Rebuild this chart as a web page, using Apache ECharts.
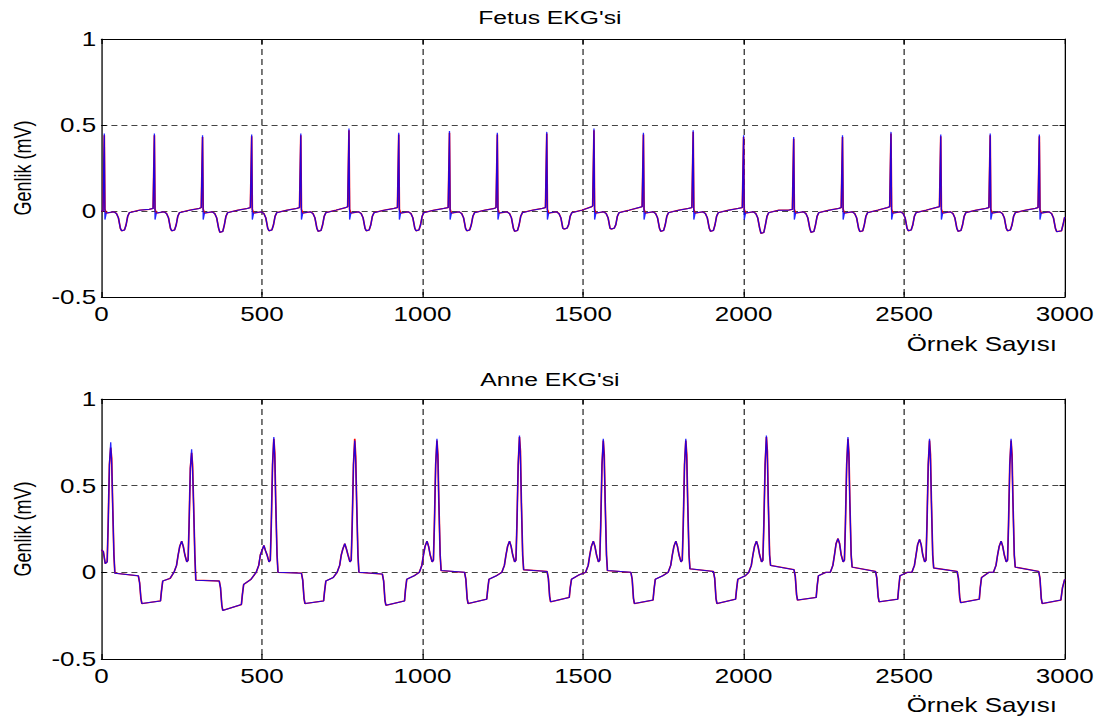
<!DOCTYPE html>
<html>
<head>
<meta charset="utf-8">
<script src="https://cdn.jsdelivr.net/npm/echarts@6/dist/echarts.min.js"></script>
<style>
  html, body { margin: 0; padding: 0; background: #fff; overflow: hidden; }
  #wrap { width: 1104px; height: 722px; overflow: hidden; position: relative; }
  #chart { width: 849.23px; height: 722px; transform: scaleX(1.3); transform-origin: 0 0; }
</style>
</head>
<body>
<div id="wrap"><div id="chart"></div></div>
<script>
// ---------------- data ----------------
const titleFetus = "Fetus EKG'si";
const titleAnne = "Anne EKG'si";
const xAxisLabel = "Örnek Sayısı";
const yAxisLabel = "Genlik (mV)";
const xTickValues = [0, 500, 1000, 1500, 2000, 2500, 3000];
const yTickValues = [-0.5, 0, 0.5, 1];

// Fetus EKG: sample index, blue trace, red trace
const fetusSamples = [0,
  5,9,11,15,39,47,53,59,63,72,77,82,87,119,149,
  161,165,167,171,195,203,209,215,219,228,233,238,243,275,305,
  311,315,317,321,345,353,359,365,369,378,383,388,393,425,455,
  464,468,470,474,498,506,512,518,522,531,536,541,546,578,608,
  617,621,623,627,651,659,665,671,675,684,689,694,699,731,761,
  767,771,773,777,801,809,815,821,825,834,839,844,849,881,911,
  922,926,928,932,956,964,970,976,980,989,994,999,1004,1036,1066,
  1080,1084,1086,1090,1114,1122,1128,1134,1138,1147,1152,1157,1162,1194,1224,
  1229,1233,1235,1239,1263,1271,1277,1283,1287,1296,1301,1306,1311,1343,1373,
  1383,1387,1389,1393,1417,1425,1431,1437,1441,1450,1455,1460,1465,1497,1527,
  1530,1534,1536,1540,1564,1572,1578,1584,1588,1597,1602,1607,1612,1644,1674,
  1684,1688,1690,1694,1718,1726,1732,1738,1742,1751,1756,1761,1766,1798,1828,
  1839,1843,1845,1849,1873,1881,1887,1893,1897,1906,1911,1916,1921,1953,1983,
  1996,2000,2002,2006,2030,2038,2044,2050,2054,2063,2068,2073,2078,2110,2140,
  2152,2156,2158,2162,2186,2194,2200,2206,2210,2219,2224,2229,2234,2266,2296,
  2304,2308,2310,2314,2338,2346,2352,2358,2362,2371,2376,2381,2386,2418,2448,
  2455,2459,2461,2465,2489,2497,2503,2509,2513,2522,2527,2532,2537,2569,2599,
  2610,2614,2616,2620,2644,2652,2658,2664,2668,2677,2682,2687,2692,2724,2754,
  2764,2768,2770,2774,2798,2806,2812,2818,2822,2831,2836,2841,2846,2878,2908,
  2917,2921,2923,2927,2951,2959,2965,2971,2975,2990,2996,3000];

const fetusBlue = [0,
  0,0.45,-0.05,-0.012,-0.005,-0.015,-0.04,-0.10,-0.115,-0.11,-0.08,-0.03,-0.01,0.005,0.01,
  0.015,0.45,-0.05,-0.012,-0.005,-0.015,-0.04,-0.10,-0.115,-0.11,-0.08,-0.03,-0.01,0.005,0.015,
  0.02,0.44,-0.05,-0.012,-0.005,-0.015,-0.04,-0.10,-0.124,-0.119,-0.08,-0.03,-0.01,0.005,0.015,
  0.02,0.445,-0.05,-0.012,-0.005,-0.015,-0.04,-0.10,-0.115,-0.11,-0.08,-0.03,-0.01,0.005,0.015,
  0.02,0.45,-0.05,-0.012,-0.005,-0.015,-0.04,-0.10,-0.118,-0.113,-0.08,-0.03,-0.01,0.005,0.02,
  0.025,0.48,-0.05,-0.012,-0.005,-0.015,-0.04,-0.10,-0.115,-0.11,-0.08,-0.03,-0.01,0.005,0.015,
  0.02,0.455,-0.05,-0.012,-0.005,-0.015,-0.04,-0.10,-0.115,-0.11,-0.08,-0.03,-0.01,0.005,0.015,
  0.02,0.465,-0.05,-0.012,-0.005,-0.015,-0.04,-0.10,-0.115,-0.11,-0.08,-0.03,-0.01,0.005,0.015,
  0.02,0.455,-0.05,-0.012,-0.005,-0.015,-0.04,-0.10,-0.118,-0.113,-0.08,-0.03,-0.01,0.005,0.015,
  0.02,0.46,-0.05,-0.012,-0.005,-0.015,-0.04,-0.10,-0.105,-0.10,-0.08,-0.03,-0.01,0.005,0.025,
  0.03,0.48,-0.05,-0.012,-0.005,-0.015,-0.04,-0.10,-0.105,-0.10,-0.08,-0.03,-0.01,0.005,0.02,
  0.025,0.455,-0.05,-0.012,-0.005,-0.015,-0.04,-0.10,-0.118,-0.113,-0.08,-0.03,-0.01,0.005,0.015,
  0.02,0.47,-0.05,-0.012,-0.005,-0.015,-0.04,-0.10,-0.118,-0.113,-0.08,-0.03,-0.01,0.005,0.015,
  0.02,0.44,-0.05,-0.012,-0.005,-0.015,-0.04,-0.10,-0.13,-0.125,-0.08,-0.03,-0.01,0.005,0.005,
  0.01,0.43,-0.05,-0.012,-0.005,-0.015,-0.04,-0.10,-0.124,-0.119,-0.08,-0.03,-0.01,0.005,0.015,
  0.02,0.44,-0.05,-0.012,-0.005,-0.015,-0.04,-0.10,-0.12,-0.115,-0.08,-0.03,-0.01,0.005,0.02,
  0.025,0.46,-0.05,-0.012,-0.005,-0.015,-0.04,-0.10,-0.115,-0.11,-0.08,-0.03,-0.01,0.005,0.02,
  0.025,0.445,-0.05,-0.012,-0.005,-0.015,-0.04,-0.10,-0.118,-0.113,-0.08,-0.03,-0.01,0.005,0.015,
  0.02,0.45,-0.05,-0.012,-0.005,-0.015,-0.04,-0.10,-0.115,-0.11,-0.08,-0.03,-0.01,0.005,0.015,
  0.02,0.445,-0.05,-0.012,-0.005,-0.015,-0.04,-0.10,-0.12,-0.115,-0.07,-0.035];

const fetusRed = [0,
  0,0.44,0.01,-0.012,-0.005,-0.015,-0.04,-0.10,-0.115,-0.11,-0.08,-0.03,-0.01,0.005,0.01,
  0.015,0.44,0.01,-0.012,-0.005,-0.015,-0.04,-0.10,-0.115,-0.11,-0.08,-0.03,-0.01,0.005,0.015,
  0.02,0.43,0.01,-0.012,-0.005,-0.015,-0.04,-0.10,-0.124,-0.119,-0.08,-0.03,-0.01,0.005,0.015,
  0.02,0.435,0.01,-0.012,-0.005,-0.015,-0.04,-0.10,-0.115,-0.11,-0.08,-0.03,-0.01,0.005,0.015,
  0.02,0.44,0.01,-0.012,-0.005,-0.015,-0.04,-0.10,-0.118,-0.113,-0.08,-0.03,-0.01,0.005,0.02,
  0.025,0.47,0.01,-0.012,-0.005,-0.015,-0.04,-0.10,-0.115,-0.11,-0.08,-0.03,-0.01,0.005,0.015,
  0.02,0.445,0.01,-0.012,-0.005,-0.015,-0.04,-0.10,-0.115,-0.11,-0.08,-0.03,-0.01,0.005,0.015,
  0.02,0.455,0.01,-0.012,-0.005,-0.015,-0.04,-0.10,-0.115,-0.11,-0.08,-0.03,-0.01,0.005,0.015,
  0.02,0.445,0.01,-0.012,-0.005,-0.015,-0.04,-0.10,-0.118,-0.113,-0.08,-0.03,-0.01,0.005,0.015,
  0.02,0.45,0.01,-0.012,-0.005,-0.015,-0.04,-0.10,-0.105,-0.10,-0.08,-0.03,-0.01,0.005,0.025,
  0.03,0.47,0.01,-0.012,-0.005,-0.015,-0.04,-0.10,-0.105,-0.10,-0.08,-0.03,-0.01,0.005,0.02,
  0.025,0.445,0.01,-0.012,-0.005,-0.015,-0.04,-0.10,-0.118,-0.113,-0.08,-0.03,-0.01,0.005,0.015,
  0.02,0.46,0.01,-0.012,-0.005,-0.015,-0.04,-0.10,-0.118,-0.113,-0.08,-0.03,-0.01,0.005,0.015,
  0.02,0.43,0.01,-0.012,-0.005,-0.015,-0.04,-0.10,-0.13,-0.125,-0.08,-0.03,-0.01,0.005,0.005,
  0.01,0.42,0.01,-0.012,-0.005,-0.015,-0.04,-0.10,-0.124,-0.119,-0.08,-0.03,-0.01,0.005,0.015,
  0.02,0.43,0.01,-0.012,-0.005,-0.015,-0.04,-0.10,-0.12,-0.115,-0.08,-0.03,-0.01,0.005,0.02,
  0.025,0.45,0.01,-0.012,-0.005,-0.015,-0.04,-0.10,-0.115,-0.11,-0.08,-0.03,-0.01,0.005,0.02,
  0.025,0.435,0.01,-0.012,-0.005,-0.015,-0.04,-0.10,-0.118,-0.113,-0.08,-0.03,-0.01,0.005,0.015,
  0.02,0.44,0.01,-0.012,-0.005,-0.015,-0.04,-0.10,-0.115,-0.11,-0.08,-0.03,-0.01,0.005,0.015,
  0.02,0.435,0.01,-0.012,-0.005,-0.015,-0.04,-0.10,-0.12,-0.115,-0.07,-0.035];

// Anne (mother) EKG: sample index, blue trace, red trace
const anneSamples = [
  0,6,12,18,21,25,29, 32,35,39,42,115,119,123,126,184,187,191,214,
  226,234,239,244,250,255,260,266,270,273,277,281, 284,287,291,294,367,371,375,378,436,439,443,466,
  482,490,495,500,506,511,516,522,526,529,533,537, 540,543,547,550,623,627,631,634,692,695,699,722,
  734,742,747,752,758,763,768,774,778,781,785,789, 792,795,799,802,875,879,883,886,944,947,951,974,
  990,998,1003,1008,1014,1019,1024,1030,1034,1037,1041,1045, 1048,1051,1055,1058,1131,1135,1139,1142,1200,1203,1207,1230,
  1247,1255,1260,1265,1271,1276,1281,1287,1291,1294,1298,1302, 1305,1308,1312,1315,1388,1392,1396,1399,1457,1460,1464,1487,
  1508,1516,1521,1526,1532,1537,1542,1548,1552,1555,1559,1563, 1566,1569,1573,1576,1649,1653,1657,1660,1718,1721,1725,1748,
  1765,1773,1778,1783,1789,1794,1799,1805,1809,1812,1816,1820, 1823,1826,1830,1833,1906,1910,1914,1917,1975,1978,1982,2005,
  2016,2024,2029,2034,2040,2045,2050,2056,2060,2063,2067,2071, 2074,2077,2081,2084,2157,2161,2165,2168,2226,2229,2233,2256,
  2270,2278,2283,2288,2294,2299,2304,2310,2314,2317,2321,2325, 2328,2331,2335,2338,2411,2415,2419,2422,2480,2483,2487,2510,
  2524,2532,2537,2542,2548,2553,2558,2564,2568,2571,2575,2579, 2582,2585,2589,2592,2665,2669,2673,2676,2734,2737,2741,2764,
  2778,2786,2791,2796,2802,2807,2812,2818,2822,2825,2829,2833, 2836,2839,2843,2846,2919,2923,2927,2930,2988,2993,3000];

const anneBlue = [
  0.13,0.12,0.05,0.06,0.27,0.62,0.75, 0.63,0.4,0.1,-0.005,-0.02,-0.06,-0.15,-0.18,-0.165,-0.11,-0.05,-0.035,
  0.0,0.04,0.1,0.15,0.18,0.15,0.1,0.06,0.07,0.27,0.6,0.71, 0.59,0.4,0.1,-0.045,-0.05,-0.09,-0.19,-0.22,-0.186,-0.13,-0.07,-0.04,
  0.0,0.04,0.1,0.125,0.155,0.125,0.1,0.06,0.07,0.27,0.62,0.78, 0.66,0.4,0.1,0.0,-0.005,-0.045,-0.15,-0.18,-0.165,-0.11,-0.05,-0.03,
  0.0,0.04,0.1,0.135,0.165,0.135,0.1,0.06,0.07,0.27,0.62,0.76, 0.64,0.4,0.1,0.0,-0.01,-0.05,-0.16,-0.19,-0.165,-0.10,-0.04,-0.02,
  0.0,0.04,0.1,0.15,0.18,0.15,0.1,0.06,0.07,0.27,0.62,0.77, 0.65,0.4,0.1,0.01,0.0,-0.04,-0.15,-0.18,-0.155,-0.10,-0.04,-0.02,
  0.0,0.04,0.1,0.15,0.18,0.15,0.1,0.06,0.07,0.27,0.62,0.79, 0.67,0.4,0.1,0.015,0.005,-0.035,-0.14,-0.17,-0.145,-0.09,-0.04,-0.015,
  0.0,0.04,0.1,0.15,0.18,0.15,0.1,0.06,0.07,0.27,0.62,0.77, 0.65,0.4,0.1,0.01,0.0,-0.04,-0.15,-0.18,-0.16,-0.10,-0.04,-0.02,
  0.0,0.04,0.1,0.15,0.18,0.15,0.1,0.06,0.07,0.27,0.62,0.77, 0.65,0.4,0.1,0.02,0.005,-0.035,-0.15,-0.18,-0.155,-0.10,-0.04,-0.02,
  0.0,0.04,0.1,0.15,0.18,0.15,0.1,0.06,0.07,0.27,0.62,0.79, 0.67,0.4,0.1,0.04,0.015,-0.025,-0.13,-0.16,-0.145,-0.08,-0.02,0.0,
  0.0,0.04,0.1,0.165,0.195,0.165,0.1,0.06,0.07,0.27,0.62,0.78, 0.66,0.4,0.1,0.03,0.005,-0.035,-0.14,-0.17,-0.155,-0.09,-0.02,0.0,
  0.0,0.04,0.1,0.16,0.19,0.16,0.1,0.06,0.07,0.27,0.62,0.77, 0.65,0.4,0.1,0.025,0.005,-0.035,-0.145,-0.175,-0.155,-0.09,-0.03,0.0,
  0.0,0.04,0.1,0.15,0.18,0.15,0.1,0.06,0.07,0.27,0.62,0.77, 0.65,0.4,0.1,0.03,0.005,-0.035,-0.15,-0.18,-0.16,-0.09,-0.04];

const anneRed = [
  0.13,0.12,0.05,0.06,0.27,0.62,0.72, 0.66,0.4,0.1,-0.005,-0.02,-0.06,-0.15,-0.18,-0.165,-0.11,-0.05,-0.035,
  0.0,0.04,0.1,0.15,0.18,0.15,0.1,0.06,0.07,0.27,0.6,0.69, 0.62,0.4,0.1,-0.045,-0.05,-0.09,-0.19,-0.22,-0.186,-0.13,-0.07,-0.04,
  0.0,0.04,0.1,0.125,0.155,0.125,0.1,0.06,0.07,0.27,0.62,0.77, 0.69,0.4,0.1,0.0,-0.005,-0.045,-0.15,-0.18,-0.165,-0.11,-0.05,-0.03,
  0.0,0.04,0.1,0.135,0.165,0.135,0.1,0.06,0.07,0.27,0.62,0.77, 0.67,0.4,0.1,0.0,-0.01,-0.05,-0.16,-0.19,-0.165,-0.10,-0.04,-0.02,
  0.0,0.04,0.1,0.15,0.18,0.15,0.1,0.06,0.07,0.27,0.62,0.76, 0.68,0.4,0.1,0.01,0.0,-0.04,-0.15,-0.18,-0.155,-0.10,-0.04,-0.02,
  0.0,0.04,0.1,0.15,0.18,0.15,0.1,0.06,0.07,0.27,0.62,0.78, 0.70,0.4,0.1,0.015,0.005,-0.035,-0.14,-0.17,-0.145,-0.09,-0.04,-0.015,
  0.0,0.04,0.1,0.15,0.18,0.15,0.1,0.06,0.07,0.27,0.62,0.76, 0.68,0.4,0.1,0.01,0.0,-0.04,-0.15,-0.18,-0.16,-0.10,-0.04,-0.02,
  0.0,0.04,0.1,0.15,0.18,0.15,0.1,0.06,0.07,0.27,0.62,0.76, 0.68,0.4,0.1,0.02,0.005,-0.035,-0.15,-0.18,-0.155,-0.10,-0.04,-0.02,
  0.0,0.04,0.1,0.15,0.18,0.15,0.1,0.06,0.07,0.27,0.62,0.78, 0.70,0.4,0.1,0.04,0.015,-0.025,-0.13,-0.16,-0.145,-0.08,-0.02,0.0,
  0.0,0.04,0.1,0.165,0.195,0.165,0.1,0.06,0.07,0.27,0.62,0.77, 0.69,0.4,0.1,0.03,0.005,-0.035,-0.14,-0.17,-0.155,-0.09,-0.02,0.0,
  0.0,0.04,0.1,0.16,0.19,0.16,0.1,0.06,0.07,0.27,0.62,0.76, 0.68,0.4,0.1,0.025,0.005,-0.035,-0.145,-0.175,-0.155,-0.09,-0.03,0.0,
  0.0,0.04,0.1,0.15,0.18,0.15,0.1,0.06,0.07,0.27,0.62,0.76, 0.68,0.4,0.1,0.03,0.005,-0.035,-0.15,-0.18,-0.16,-0.09,-0.04];

// ---------------- chart ----------------
const zip = (xs, ys) => xs.map((x, i) => [x, ys[i]]);
const FONT = "'Liberation Sans', Arial, Helvetica, sans-serif";
const gridsTop = [39, 399];
const gridsH = [258, 260];
const plainNum = v => String(v);

function xAxes(gi) {
  const base = {
    gridIndex: gi, type: 'value', min: xTickValues[0], max: xTickValues[xTickValues.length - 1],
    interval: xTickValues[1] - xTickValues[0],
    axisLine: { show: true, onZero: false, lineStyle: { color: '#000', width: 1 } },
    axisTick: { show: true, inside: true, length: 5, lineStyle: { color: '#000' } }
  };
  return [
    Object.assign({}, base, {
      position: 'bottom',
      axisLabel: { show: true, color: '#000', fontSize: 20, fontFamily: FONT, margin: 7, formatter: plainNum },
      splitLine: { show: true, showMinLine: false, showMaxLine: false,
        lineStyle: { color: '#333', width: 1, type: [6, 4] } }
    }),
    Object.assign({}, base, {
      position: 'top', axisLabel: { show: false }, splitLine: { show: false }
    })
  ];
}
function yAxes(gi) {
  const base = {
    gridIndex: gi, type: 'value', min: yTickValues[0], max: yTickValues[yTickValues.length - 1],
    interval: yTickValues[1] - yTickValues[0],
    axisLine: { show: true, onZero: false, lineStyle: { color: '#000', width: 1 } },
    axisTick: { show: true, inside: true, length: 4, lineStyle: { color: '#000' } }
  };
  return [
    Object.assign({}, base, {
      position: 'left',
      name: yAxisLabel, nameLocation: 'middle', nameRotate: 90, nameGap: 52,
      nameTextStyle: { color: '#000', fontSize: 18, fontFamily: FONT },
      axisLabel: { show: true, color: '#000', fontSize: 20, fontFamily: FONT, margin: 4, formatter: plainNum },
      splitLine: { show: true, showMinLine: false, showMaxLine: false,
        lineStyle: { color: '#444', width: 1, type: [4.6, 3.1] } }
    }),
    Object.assign({}, base, {
      position: 'right', axisLabel: { show: false }, splitLine: { show: false }
    })
  ];
}

const titleStyle = { color: '#000', fontSize: 19, fontWeight: 'normal', fontFamily: FONT };
const option = {
  animation: false,
  backgroundColor: '#fff',
  title: [
    { text: titleFetus, left: 423, top: 8, textAlign: 'center', padding: 0, textStyle: titleStyle },
    { text: titleAnne, left: 423, top: 370, textAlign: 'center', padding: 0, textStyle: titleStyle },
    { text: xAxisLabel, right: 36, top: 334, padding: 0, textStyle: Object.assign({}, titleStyle, { fontSize: 20 }) },
    { text: xAxisLabel, right: 36, top: 695, padding: 0, textStyle: Object.assign({}, titleStyle, { fontSize: 20 }) }
  ],
  grid: [
    { left: 77.7, right: 30, top: gridsTop[0], height: gridsH[0], containLabel: false },
    { left: 77.7, right: 30, top: gridsTop[1], height: gridsH[1], containLabel: false }
  ],
  xAxis: [].concat(xAxes(0), xAxes(1)),
  yAxis: [].concat(yAxes(0), yAxes(1)),
  series: [
    { type: 'line', xAxisIndex: 0, yAxisIndex: 0, data: zip(fetusSamples, fetusRed),
      showSymbol: false, symbol: 'none', z: 2, lineStyle: { color: '#ff0000', width: 1.3 } },
    { type: 'line', xAxisIndex: 0, yAxisIndex: 0, data: zip(fetusSamples, fetusBlue),
      showSymbol: false, symbol: 'none', z: 3, lineStyle: { color: '#0000ff', width: 1, opacity: 0.85 } },
    { type: 'line', xAxisIndex: 2, yAxisIndex: 2, data: zip(anneSamples, anneRed),
      showSymbol: false, symbol: 'none', z: 2, lineStyle: { color: '#ff0000', width: 1.3 } },
    { type: 'line', xAxisIndex: 2, yAxisIndex: 2, data: zip(anneSamples, anneBlue),
      showSymbol: false, symbol: 'none', z: 3, lineStyle: { color: '#0000ff', width: 1, opacity: 0.85 } }
  ]
};
const chart = echarts.init(document.getElementById('chart'), null, { renderer: 'svg' });
chart.setOption(option);
</script>
</body>
</html>
